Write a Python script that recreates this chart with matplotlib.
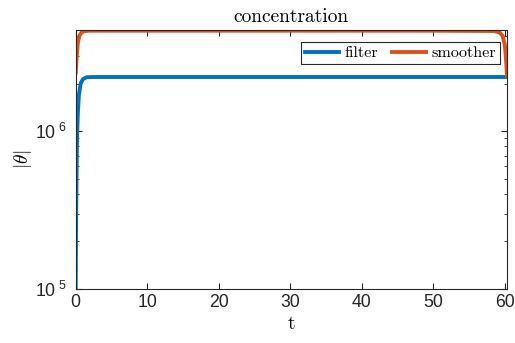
import matplotlib
matplotlib.use("Agg")
import matplotlib.pyplot as plt
from matplotlib.ticker import LogLocator, FixedLocator, FuncFormatter
import math

plt.rcParams['font.family'] = ['Liberation Sans', 'DejaVu Sans']

# filter estimate
t_filter = [0, 0.05, 0.1, 0.15, 0.2, 0.3, 0.45, 0.7, 1.0, 1.5, 2.5, 10, 30, 50, 60.3]
v_filter = [1.0e5, 2.5e5, 4.5e5, 7.0e5, 9.5e5, 1.3e6, 1.7e6, 2.0e6, 2.13e6, 2.19e6,
            2.2e6, 2.2e6, 2.2e6, 2.2e6, 2.2e6]

# smoother estimate
t_smooth = [0, 0.15, 0.3, 0.5, 0.8, 1.2, 2.0, 10, 30, 50, 58.5, 59.3, 59.7, 60.0, 60.15, 60.3]
v_smooth = [2.35e6, 3.0e6, 3.6e6, 4.0e6, 4.2e6, 4.3e6, 4.32e6, 4.32e6, 4.32e6, 4.32e6,
            4.3e6, 4.2e6, 4.0e6, 3.5e6, 2.9e6, 2.25e6]

x_ticks = [0, 10, 20, 30, 40, 50, 60]


def pow_label(v, pos):
    e = int(round(math.log10(v)))
    return r'$\mathdefault{10}^{\,\,\mathdefault{%d}}$' % e


fig = plt.figure(figsize=(5.15, 3.43), dpi=100)
ax = fig.add_axes([75.7 / 515, 54 / 343, (507 - 75.7) / 515, 259 / 343])

ax.plot(t_filter, v_filter, color='#0072BD', lw=2.8, label='filter')
ax.plot(t_smooth, v_smooth, color='#D95319', lw=2.8, label='smoother')

ax.set_yscale('log')
ax.set_xlim(0, 60.3)
ax.set_ylim(1e5, 10 ** 6.64)
ax.xaxis.set_major_locator(FixedLocator(x_ticks))
ax.yaxis.set_major_locator(LogLocator(base=10, numticks=10))
ax.yaxis.set_major_formatter(FuncFormatter(pow_label))
ax.yaxis.set_minor_locator(LogLocator(base=10, subs=range(2, 10), numticks=20))

ax.tick_params(which='both', direction='in', top=True, right=True, colors='#262626',
               labelsize=12.7)
ax.tick_params(which='major', length=4)
ax.tick_params(which='minor', length=2.5)
ax.tick_params(axis='y', pad=6)
for s in ax.spines.values():
    s.set_color('#262626')
    s.set_linewidth(0.8)

ax.set_title('concentration', fontfamily='cmr10', fontsize=14, pad=6)
ax.set_xlabel('t', fontfamily='cmr10', fontsize=14, labelpad=3)
ax.set_ylabel(r'$|\theta|$', fontsize=14, math_fontfamily='cm', labelpad=1)

leg = ax.legend(loc='upper right', bbox_to_anchor=(0.9838, 0.9537), ncol=2,
                prop={'family': 'cmr10', 'size': 11.7},
                fancybox=False, edgecolor='#262626', framealpha=1,
                handlelength=2.1, handletextpad=0.3, columnspacing=0.9,
                borderpad=0.25, borderaxespad=0)
leg.get_frame().set_linewidth(0.8)

fig.savefig('out.png', dpi=100)
